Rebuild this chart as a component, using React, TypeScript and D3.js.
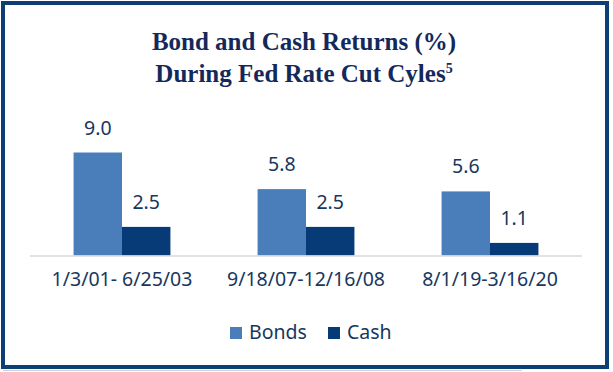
import * as d3 from "d3";

const categories = ["1/3/01- 6/25/03", "9/18/07-12/16/08", "8/1/19-3/16/20"];
const seriesNames = ["Bonds", "Cash"];
const bonds = [9.0, 5.8, 5.6];
const cash = [2.5, 2.5, 1.1];
const titleLines = ["Bond and Cash Returns (%)", "During Fed Rate Cut Cyles"];

const width = 613;
const height = 372;
const colors = ["#4a7ebb", "#073b78"];
const textColor = "#17375e";
const sans = "'Noto Sans', 'Open Sans', sans-serif";

const App = () => {
  const x = d3.scaleBand().domain(categories).range([30, 582]);
  const xSub = d3
    .scaleBand()
    .domain(seriesNames)
    .range([0, x.bandwidth()])
    .paddingOuter(0.9);
  const y = d3.scaleLinear().domain([0, 9]).range([255.5, 152.5]);
  const color = d3.scaleOrdinal<string>().domain(seriesNames).range(colors);

  const rows = categories.map((c, i) => ({
    cat: c,
    values: [
      { key: "Bonds", value: bonds[i] },
      { key: "Cash", value: cash[i] },
    ],
  }));

  const legendX = [230, 328];

  return (
    <svg
      width={width}
      height={height}
      style={{ position: "absolute", left: 0, top: 0, background: "#fff" }}
    >
      {/* frame */}
      <line x1={3} x2={522} y1={370.5} y2={370.5} stroke="#c9d6da" strokeWidth={1} />
      <rect
        x={3}
        y={3}
        width={604}
        height={364}
        fill="#fff"
        stroke="#0d3e74"
        strokeWidth={4}
      />

      {/* title */}
      <g
        fontFamily="'Liberation Serif', 'Times New Roman', serif"
        fontWeight="bold"
        fontSize={25}
        fill="#13295b"
        textAnchor="middle"
      >
        <text x={304} y={50}>
          {titleLines[0]}
        </text>
        <text x={304} y={82}>
          {titleLines[1]}
          <tspan fontSize={14} dy={-9}>
            5
          </tspan>
        </text>
      </g>

      {/* bars */}
      {rows.map((r) => (
        <g key={r.cat} transform={`translate(${x(r.cat)},0)`}>
          {r.values.map((v) => (
            <rect
              key={v.key}
              x={xSub(v.key)}
              y={y(v.value)}
              width={xSub.bandwidth()}
              height={y(0) - y(v.value)}
              fill={color(v.key)}
            />
          ))}
          {r.values.map((v) => (
            <text
              key={v.key + "-l"}
              x={(xSub(v.key) as number) + xSub.bandwidth() / 2}
              y={y(v.value) - 18}
              textAnchor="middle"
              fontFamily={sans}
              fontSize={19.5}
              fill={textColor}
            >
              {v.value.toFixed(1)}
            </text>
          ))}
        </g>
      ))}

      {/* axis */}
      <line
        x1={x.range()[0]}
        x2={x.range()[1]}
        y1={y(0) + 0.5}
        y2={y(0) + 0.5}
        stroke="#d9d9d9"
        strokeWidth={1.5}
      />
      {categories.map((c) => (
        <text
          key={c}
          x={(x(c) as number) + x.bandwidth() / 2}
          y={286}
          textAnchor="middle"
          fontFamily={sans}
          fontSize={19.5}
          fill={textColor}
        >
          {c}
        </text>
      ))}

      {/* legend */}
      {seriesNames.map((s, i) => (
        <g key={s} transform={`translate(${legendX[i]},327)`}>
          <rect width={12} height={12} fill={color(s)} />
          <text
            x={19}
            y={11.5}
            fontFamily={sans}
            fontSize={19.5}
            fill={textColor}
          >
            {s}
          </text>
        </g>
      ))}
    </svg>
  );
};

export default App;
